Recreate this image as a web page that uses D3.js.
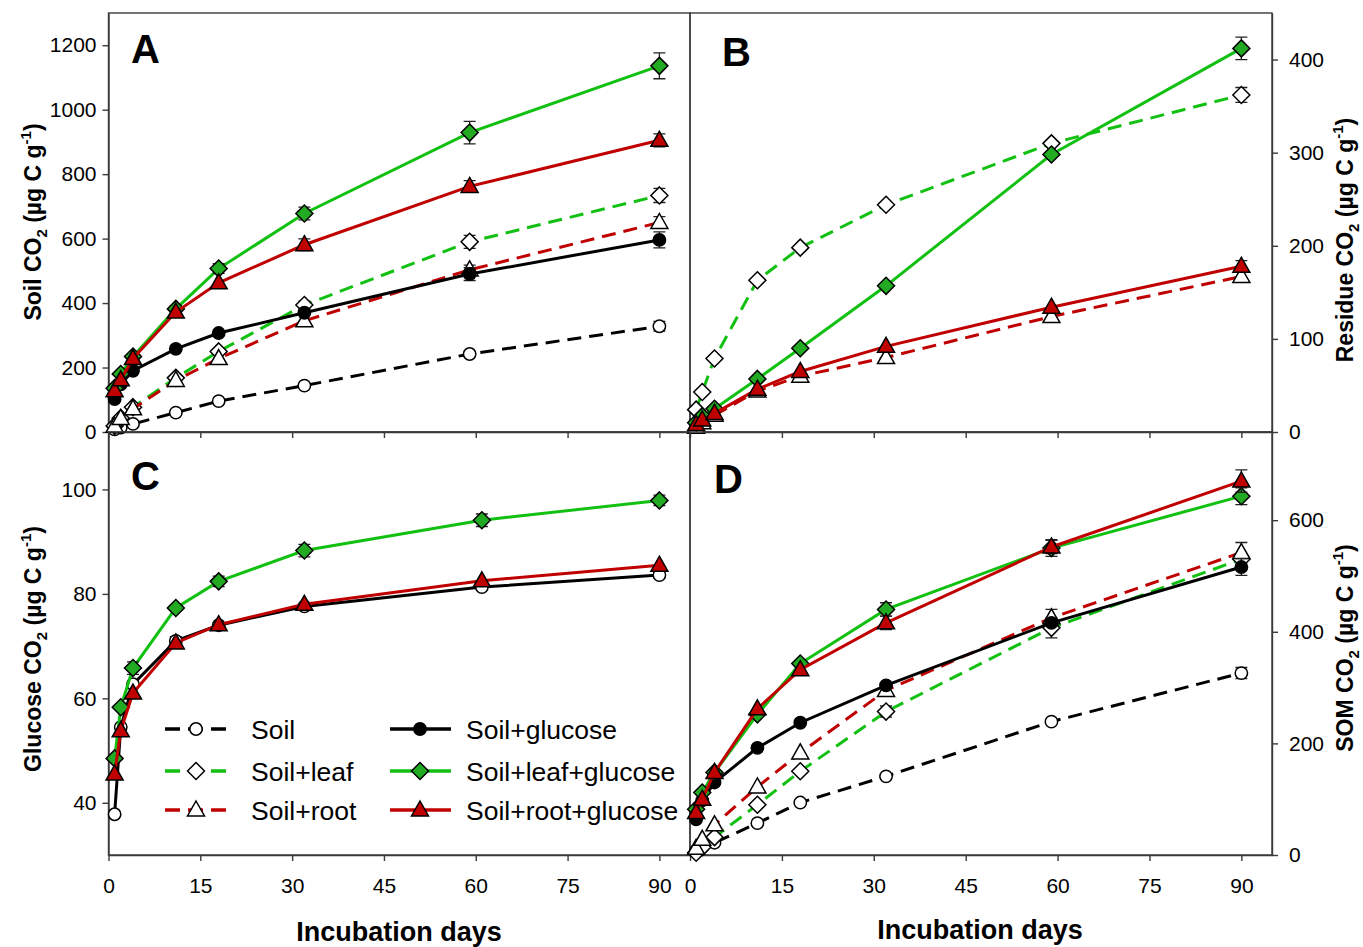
<!DOCTYPE html>
<html>
<head>
<meta charset="utf-8">
<script src="https://cdn.jsdelivr.net/npm/d3@7"></script>
<style>
  body { margin: 0; background: #fff; }
  svg { font-family: "Liberation Sans", Arial, sans-serif; }
</style>
</head>
<body>
<div id="chart"></div>
<script>
// incubation days (panel C reads its 60-day sample at day 61)
var days = [1, 2, 4, 11, 18, 32, 59, 90];
var daysC = [1, 2, 4, 11, 18, 32, 61, 90];
var xTicks = [0, 15, 30, 45, 60, 75, 90];

// A - soil CO2
var aSoil      = [8, 14, 25, 60, 96, 144, 242, 328];
var aLeaf      = [19, 43, 77, 168, 250, 394, 590, 734];
var aRoot      = [18, 42, 72, 160, 228, 345, 503, 650];
var aGlu       = [102, 148, 190, 258, 307, 370, 490, 596];
var aLeafGlu   = [136, 180, 234, 382, 507, 678, 929, 1136];
var aRootGlu   = [128, 162, 228, 372, 463, 581, 762, 905];
var aSoilErr    = [0, 0, 0, 0, 0, 0, 8, 15];
var aLeafErr    = [0, 0, 0, 0, 0, 12, 20, 22];
var aRootErr    = [0, 0, 0, 0, 0, 0, 15, 18];
var aGluErr     = [0, 0, 0, 0, 0, 0, 20, 25];
var aLeafGluErr = [0, 0, 0, 0, 15, 20, 35, 40];
var aRootGluErr = [0, 0, 0, 0, 0, 18, 18, 20];

// B - residue CO2
var bLeaf      = [24, 43, 79, 163, 198, 244, 310, 362];
var bRoot      = [5, 10, 18, 44, 60, 80, 124, 167];
var bLeafGlu   = [10, 17, 25, 57, 90, 157, 298, 412];
var bRootGlu   = [8, 13, 20, 46, 65, 92, 134, 178];
var bLeafErr    = [0, 0, 0, 0, 0, 0, 0, 8];
var bRootErr    = [0, 0, 0, 0, 0, 0, 0, 5];
var bLeafGluErr = [0, 0, 0, 0, 0, 0, 0, 12];
var bRootGluErr = [0, 0, 0, 0, 0, 0, 0, 6];

// C - glucose CO2
var cGlu       = [37.8, 54.5, 62.7, 71.0, 74.0, 77.6, 81.3, 83.6];
var cLeafGlu   = [48.5, 58.3, 65.8, 77.3, 82.4, 88.3, 94.1, 97.9];
var cRootGlu   = [45.5, 53.8, 61.0, 70.6, 74.1, 78.0, 82.5, 85.5];
var cGluErr     = [0, 0, 0, 0.8, 0, 0, 0, 0.6];
var cLeafGluErr = [0, 0, 1.2, 0, 1, 1.2, 1.2, 1];
var cRootGluErr = [0, 0, 0, 0, 0, 0, 0, 0];

// D - SOM CO2
var dSoil      = [8, 14, 22, 57, 94, 141, 239, 326];
var dLeaf      = [4, 14, 32, 90, 150, 257, 407, 530];
var dRoot      = [12, 28, 54, 122, 183, 295, 425, 542];
var dGlu       = [64, 98, 130, 192, 237, 304, 416, 516];
var dLeafGlu   = [82, 112, 148, 252, 343, 440, 550, 643];
var dRootGlu   = [76, 100, 148, 262, 332, 416, 552, 670];
var dSoilErr    = [0, 0, 0, 0, 0, 0, 0, 10];
var dLeafErr    = [0, 0, 0, 0, 0, 10, 18, 0];
var dRootErr    = [0, 0, 0, 0, 0, 0, 15, 18];
var dGluErr     = [0, 0, 0, 0, 0, 0, 0, 15];
var dLeafGluErr = [0, 0, 0, 0, 0, 12, 15, 15];
var dRootGluErr = [0, 0, 0, 0, 0, 12, 12, 20];

var legendLeft  = ["Soil", "Soil+leaf", "Soil+root"];
var legendRight = ["Soil+glucose", "Soil+leaf+glucose", "Soil+root+glucose"];

var GREEN = "#11c011", GREEN_FILL = "#22aa22", RED = "#c00000";

var styles = {
  "Soil":              {color: "#000", dash: true,  shape: "circle",   fill: "#fff"},
  "Soil+leaf":         {color: GREEN,  dash: true,  shape: "diamond",  fill: "#fff"},
  "Soil+root":         {color: RED,    dash: true,  shape: "triangle", fill: "#fff"},
  "Soil+glucose":      {color: "#000", dash: false, shape: "circle",   fill: "#000"},
  "Soil+leaf+glucose": {color: GREEN,  dash: false, shape: "diamond",  fill: GREEN_FILL},
  "Soil+root+glucose": {color: RED,    dash: false, shape: "triangle", fill: RED}
};

var shapes = {
  circle: d3.symbol(d3.symbolCircle, 120)(),
  diamond: "M0,-8.5L8.5,0L0,8.5L-8.5,0Z",
  triangle: "M0,-9L8.5,6L-8.5,6Z"
};

var W = 1363, H = 947;
var svg = d3.select("#chart").append("svg")
    .attr("width", W)
    .attr("height", H);

var panels = [
  {letter: "A", lx: 131, ly: 63, left: 108.5, right: 690, top: 13, bottom: 432,
   yDomain: [0, 1300], yTicks: [0, 200, 400, 600, 800, 1000, 1200], side: "left", xLabels: false, x: days,
   series: [["Soil", aSoil, aSoilErr], ["Soil+leaf", aLeaf, aLeafErr], ["Soil+root", aRoot, aRootErr],
            ["Soil+glucose", aGlu, aGluErr], ["Soil+leaf+glucose", aLeafGlu, aLeafGluErr],
            ["Soil+root+glucose", aRootGlu, aRootGluErr]]},
  {letter: "B", lx: 722, ly: 66, left: 690, right: 1272, top: 13, bottom: 432,
   yDomain: [0, 450], yTicks: [0, 100, 200, 300, 400], side: "right", xLabels: false, x: days,
   series: [["Soil+leaf", bLeaf, bLeafErr], ["Soil+root", bRoot, bRootErr],
            ["Soil+leaf+glucose", bLeafGlu, bLeafGluErr], ["Soil+root+glucose", bRootGlu, bRootGluErr]]},
  {letter: "C", lx: 131, ly: 490, left: 108.5, right: 690, top: 432, bottom: 855,
   yDomain: [30, 111], yTicks: [40, 60, 80, 100], side: "left", xLabels: true, x: daysC,
   series: [["Soil+glucose", cGlu, cGluErr, "#fff"], ["Soil+leaf+glucose", cLeafGlu, cLeafGluErr],
            ["Soil+root+glucose", cRootGlu, cRootGluErr]]},
  {letter: "D", lx: 714, ly: 493, left: 690, right: 1272, top: 432, bottom: 855,
   yDomain: [0, 758], yTicks: [0, 200, 400, 600], side: "right", xLabels: true, x: days,
   series: [["Soil", dSoil, dSoilErr], ["Soil+leaf", dLeaf, dLeafErr], ["Soil+root", dRoot, dRootErr],
            ["Soil+glucose", dGlu, dGluErr], ["Soil+leaf+glucose", dLeafGlu, dLeafGluErr],
            ["Soil+root+glucose", dRootGlu, dRootGluErr]]}
];

panels.forEach(function(p) {
  var x = d3.scaleLinear().domain([0, 95]).range([p.left, p.right]);
  var y = d3.scaleLinear().domain(p.yDomain).range([p.bottom, p.top]);
  var g = svg.append("g");

  // frame
  g.append("rect")
      .attr("x", p.left).attr("y", p.top)
      .attr("width", p.right - p.left).attr("height", p.bottom - p.top)
      .attr("fill", "none").attr("stroke", "#3a3a3a").attr("stroke-width", 1.4);

  // x axis
  var xAxis = d3.axisBottom(x).tickValues(xTicks).tickSize(6).tickSizeOuter(0).tickPadding(17);
  if (!p.xLabels) xAxis.tickFormat("");
  g.append("g")
      .attr("transform", "translate(0," + p.bottom + ")")
      .call(xAxis);

  // y axis
  var yAxis = p.side == "left"
      ? d3.axisLeft(y).tickPadding(6)
      : d3.axisRight(y).tickPadding(11);
  yAxis.tickValues(p.yTicks).tickSize(6).tickSizeOuter(0).tickFormat(d3.format("d"));
  g.append("g")
      .attr("transform", "translate(" + (p.side == "left" ? p.left : p.right) + ",0)")
      .call(yAxis);

  g.selectAll(".domain").attr("stroke", "#3a3a3a").attr("stroke-width", 1.4);
  g.selectAll(".tick line").attr("stroke", "#3a3a3a").attr("stroke-width", 1.4);
  g.selectAll(".tick text").attr("fill", "#000").style("font-size", "21px");

  // series
  p.series.forEach(function(s) {
    var st = styles[s[0]];
    var pts = s[1].map(function(v, i) { return {d: p.x[i], v: v, e: s[2][i]}; });

    var line = d3.line().x(function(d) { return x(d.d); }).y(function(d) { return y(d.v); });
    g.append("path")
        .datum(pts)
        .attr("d", line)
        .attr("fill", "none")
        .attr("stroke", st.color)
        .attr("stroke-width", 3)
        .attr("stroke-dasharray", st.dash ? "14,8" : null);

    var eb = pts.filter(function(d) { return d.e > 0; });
    g.selectAll(null).data(eb).enter().append("path")
        .attr("d", function(d) {
          var cx = x(d.d), y1 = y(d.v + d.e), y2 = y(d.v - d.e);
          return "M" + (cx - 6) + "," + y1 + "H" + (cx + 6) + "M" + cx + "," + y1 + "V" + y2 +
                 "M" + (cx - 6) + "," + y2 + "H" + (cx + 6);
        })
        .attr("stroke", "#222").attr("stroke-width", 1.3).attr("fill", "none");

    g.selectAll(null).data(pts).enter().append("path")
        .attr("d", shapes[st.shape])
        .attr("transform", function(d) { return "translate(" + x(d.d) + "," + y(d.v) + ")"; })
        .attr("fill", s[3] || st.fill)
        .attr("stroke", "#000")
        .attr("stroke-width", 1.5);
  });

  g.append("text")
      .attr("x", p.lx).attr("y", p.ly)
      .attr("font-size", "40px").attr("font-weight", "bold")
      .text(p.letter);
});

// axis titles
function yTitle(cx, cy, name) {
  var t = svg.append("text")
      .attr("transform", "translate(" + cx + "," + cy + ") rotate(-90)")
      .attr("text-anchor", "middle")
      .attr("font-weight", "bold")
      .attr("font-size", "23px");
  t.append("tspan").text(name + " CO");
  t.append("tspan").attr("font-size", "15px").attr("dy", 6).text("2");
  t.append("tspan").attr("dy", -6).text(" (\u00b5g C g");
  t.append("tspan").attr("font-size", "15px").attr("dy", -10).text("-1");
  t.append("tspan").attr("dy", 10).text(")");
}
yTitle(41, 222, "Soil");
yTitle(41, 649, "Glucose");
yTitle(1353, 240, "Residue");
yTitle(1353, 648, "SOM");

svg.append("text").attr("x", 399).attr("y", 941)
    .attr("text-anchor", "middle").attr("font-weight", "bold").attr("font-size", "27px")
    .text("Incubation days");
svg.append("text").attr("x", 980).attr("y", 939)
    .attr("text-anchor", "middle").attr("font-weight", "bold").attr("font-size", "27px")
    .text("Incubation days");

// legend inside panel C
var legRows = [729, 771, 810];
function legendItem(name, x1, x2, mx, tx, ly) {
  var st = styles[name];
  svg.append("line")
      .attr("x1", x1).attr("x2", x2).attr("y1", ly).attr("y2", ly)
      .attr("stroke", st.color).attr("stroke-width", 3.5)
      .attr("stroke-dasharray", st.dash ? "15,8" : null);
  svg.append("path")
      .attr("d", shapes[st.shape])
      .attr("transform", "translate(" + mx + "," + ly + ")")
      .attr("fill", st.fill).attr("stroke", "#000").attr("stroke-width", 1.5);
  svg.append("text")
      .attr("x", tx).attr("y", ly + 10)
      .attr("font-size", "26.5px")
      .text(name);
}
legendLeft.forEach(function(n, i) { legendItem(n, 165, 226, 196, 251, legRows[i]); });
legendRight.forEach(function(n, i) { legendItem(n, 390, 451, 420, 466, legRows[i]); });
</script>
</body>
</html>
